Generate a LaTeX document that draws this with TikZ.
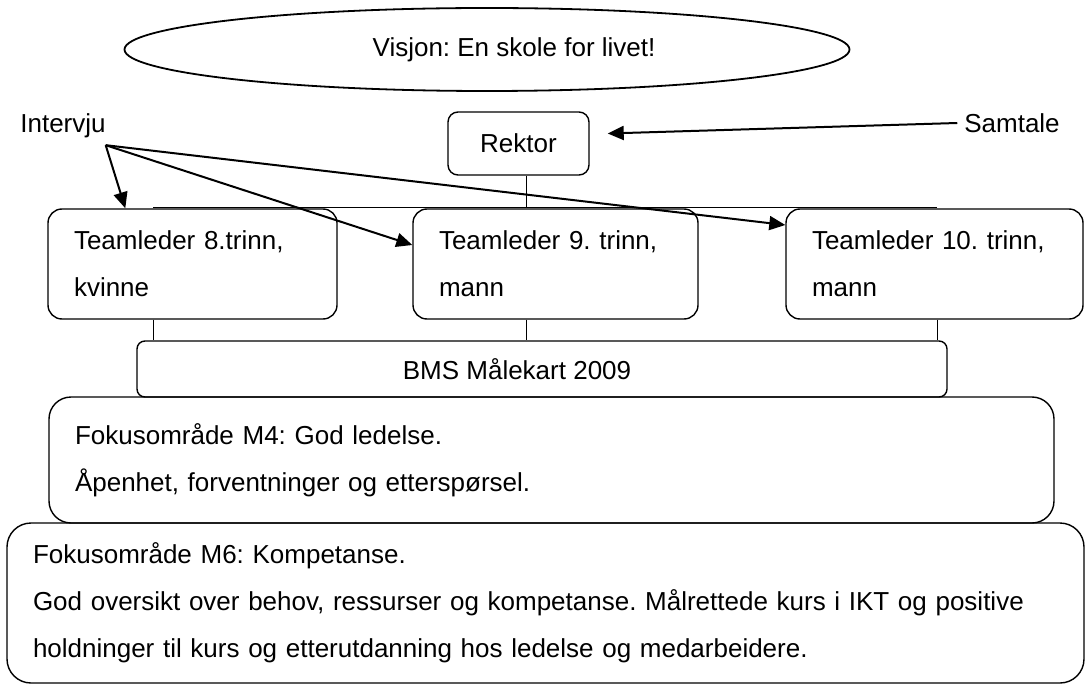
\documentclass[tikz,border=0pt]{standalone}
\usepackage{fontspec}
\setmainfont{Liberation Sans}
\frenchspacing
\usetikzlibrary{arrows.meta,positioning,shapes.geometric,calc}

\begin{document}
\begin{tikzpicture}[
    x=0.5pt, y=-0.5pt,
    every node/.style={font=\fontsize{13}{23.5}\selectfont},
    vision/.style={draw, ellipse, line width=0.9pt, minimum width=362.5pt, minimum height=41.5pt, inner sep=0pt},
    chief/.style={draw, rounded corners=5pt, line width=0.7pt, minimum width=70.5pt, minimum height=31.5pt},
    teambox/.style={draw, rounded corners=7pt, line width=0.7pt, align=left, inner xsep=13pt, minimum height=55pt},
    chart/.style={draw, rounded corners=4pt, line width=0.7pt, minimum width=405pt, minimum height=28pt},
    focus/.style={draw, rounded corners=11pt, line width=0.7pt, align=left, inner xsep=13pt},
    link/.style={line width=0.5pt},
    arrow/.style={-{Triangle[length=8pt, width=7pt]}, line width=1pt}
  ]
  \useasboundingbox (0,0) rectangle (1085,684);

  \node[vision, label={[xshift=13.5pt]center:Visjon: En skole for livet!}] (vision) at (487,49.5) {};
  \node[chief] (rektor) at (518.5,143.5) {Rektor};
  \node (intervju) at (63,126) {Intervju};
  \node (samtale) at (1012,123) {Samtale};

  \node[teambox, text width=118.5pt] (lead8) at (192.5,264) {Teamleder 8.trinn,\\kvinne};
  \node[teambox, text width=116.5pt] (lead9) at (555.5,264) {Teamleder 9. trinn,\\mann};
  \node[teambox, text width=122.5pt] (lead10) at (934.5,264) {Teamleder 10. trinn,\\mann};

  \node[chart, label={[xshift=-12.5pt]center:BMS Målekart 2009}] (bms) at (542,369) {};
  \node[focus, text width=476.5pt, minimum height=63pt] (m4) at (551.5,460)
    {Fokusområde M4: God ledelse.\\Åpenhet, forventninger og etterspørsel.\\[-7pt]};
  \node[focus, rounded corners=12pt, text width=512.5pt, minimum height=80pt] (m6) at (545.5,603)
    {Fokusområde M6: Kompetanse.\\God oversikt over behov, ressurser og kompetanse. Målrettede kurs i IKT og positive\\holdninger til kurs og etterutdanning hos ledelse og medarbeidere.};

  % org lines
  \coordinate (t8) at (153,208);
  \coordinate (t9) at (526,208);
  \coordinate (t10) at (937,208);
  \draw[link] (t8) -- (t10);
  \draw[link] (rektor.south -| t9) -- (t9);
  \foreach \n in {8,9,10}
    \draw[link] (lead\n.south -| t\n) -- (bms.north -| t\n);

  % arrows
  \coordinate (ivfoot) at ($(intervju.south east)+(-7,0)$);
  \draw[arrow] (ivfoot) -- ($(lead8.north west)+(78,0)$);
  \draw[arrow] (ivfoot) -- ($(lead9.west)+(0,-19)$);
  \draw[arrow] (ivfoot) -- ($(lead10.west)+(0,-39)$);
  \draw[arrow] (samtale.west) -- ($(rektor.east)+(18,-10)$);
\end{tikzpicture}
\end{document}
